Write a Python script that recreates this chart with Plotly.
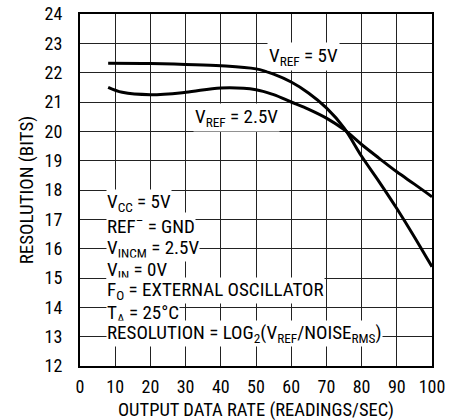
import plotly.graph_objects as go

# output data rate (readings/sec) vs resolution (bits)
rate_5v = [8, 20, 30, 40, 50, 55, 60, 65, 70, 75, 80, 85, 90, 95, 100]
res_5v = [22.32, 22.31, 22.28, 22.24, 22.13, 21.95, 21.68, 21.3, 20.8, 20.12, 19.15, 18.28, 17.37, 16.4, 15.38]

rate_25v = [8, 12, 20, 30, 40, 50, 55, 60, 65, 70, 75, 80, 85, 90, 95, 100]
res_25v = [21.5, 21.33, 21.25, 21.33, 21.48, 21.42, 21.25, 21.0, 20.75, 20.45, 20.06, 19.55, 19.08, 18.62, 18.2, 17.77]

x_ticks = list(range(0, 101, 10))
y_ticks = list(range(12, 25))

cond_lines = [
    ("V<sub>CC</sub> = 5V", 17.56),
    ("REF<sup>–</sup> = GND", 16.79),
    ("V<sub>INCM</sub> = 2.5V", 16.01),
    ("V<sub>IN</sub> = 0V", 15.27),
    ("F<sub>O</sub> = EXTERNAL OSCILLATOR", 14.56),
    ("T<sub>A</sub> = 25°C", 13.8),
    ("RESOLUTION = LOG<sub>2</sub>(V<sub>REF</sub>/NOISE<sub>RMS</sub>)", 13.11),
]

FONT = "Roboto Condensed, Liberation Sans Narrow, sans-serif"

fig = go.Figure()
for xs, ys in [(rate_5v, res_5v), (rate_25v, res_25v)]:
    fig.add_trace(go.Scatter(x=xs, y=ys, mode="lines", line=dict(color="black", width=3, shape="spline"),
                             showlegend=False, hoverinfo="skip"))

fig.add_annotation(x=53.0, y=22.55, text="V<sub>REF</sub> = 5V", showarrow=False, xanchor="left",
                   yanchor="middle", bgcolor="white", borderpad=1, font=dict(size=19, color="black", family=FONT))
fig.add_annotation(x=32.2, y=20.47, text="V<sub>REF</sub> = 2.5V", showarrow=False, xanchor="left",
                   yanchor="middle", bgcolor="white", borderpad=1, font=dict(size=19, color="black", family=FONT))

for txt, yv in cond_lines:
    fig.add_annotation(x=7.4, y=yv, text=txt, showarrow=False, xanchor="left", yanchor="middle",
                       bgcolor="white", borderpad=0, font=dict(size=19, color="black", family=FONT))

# x axis title placed by hand so it sits below the tick labels
fig.add_annotation(x=0.5, y=-0.125, xref="paper", yref="paper", text="OUTPUT DATA RATE (READINGS/SEC)",
                   showarrow=False, xanchor="center", yanchor="middle",
                   font=dict(size=18.5, color="black", family=FONT))

fig.update_xaxes(range=[0, 100], tickvals=x_ticks, showgrid=True, gridcolor="#222", gridwidth=1,
                 showline=True, linecolor="black", linewidth=2, mirror=True, ticks="",
                 ticklabelstandoff=3, tickfont=dict(size=18), automargin=False, zeroline=False)
fig.update_yaxes(range=[12, 24], tickvals=y_ticks, showgrid=True, gridcolor="#222", gridwidth=1,
                 showline=True, linecolor="black", linewidth=2, mirror=True, ticks="",
                 ticklabelstandoff=12, tickfont=dict(size=18), automargin=False,
                 zeroline=False, title=dict(text="RESOLUTION (BITS)", standoff=6, font=dict(size=19)))

fig.update_layout(
    width=450, height=420,
    margin=dict(l=80, r=18, t=14, b=54),
    plot_bgcolor="white", paper_bgcolor="white",
    font=dict(family=FONT, size=16, color="black"),
)

fig.write_html("out.html", config={"displayModeBar": False},
               post_script="document.body.style.margin='0px';")
